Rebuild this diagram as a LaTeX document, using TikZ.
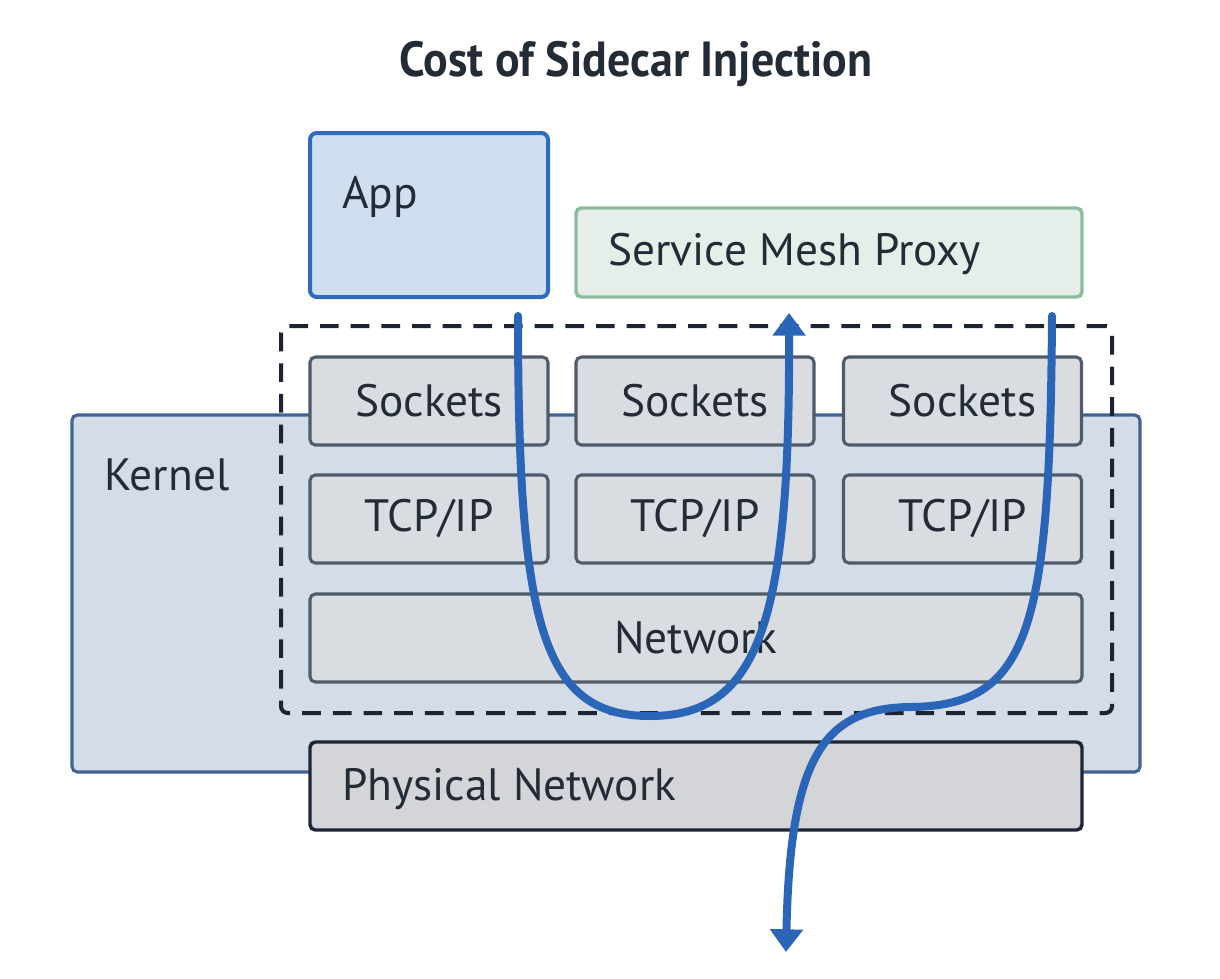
\documentclass[tikz,border=0pt]{standalone}
\usepackage{fontspec}
\setmainfont{PT Sans}
\newfontfamily\titlefont[FakeStretch=0.93]{PT Sans Bold}
\usetikzlibrary{arrows.meta}
\definecolor{txt}{HTML}{222B36}
\definecolor{flow}{HTML}{2B65B8}
\definecolor{appfill}{HTML}{CFDFF0}
\definecolor{appline}{HTML}{2F6BBF}
\definecolor{smpfill}{HTML}{E5EEE8}
\definecolor{smpline}{HTML}{8BBD9C}
\definecolor{kerfill}{HTML}{D4DDE7}
\definecolor{kerline}{HTML}{3F6494}
\definecolor{layfill}{HTML}{D9DDE1}
\definecolor{layline}{HTML}{4F5B69}
\definecolor{phyfill}{HTML}{D3D5D9}
\definecolor{phyline}{HTML}{1E2636}
\definecolor{dashcol}{HTML}{1C2333}
\tikzset{
  layer/.style={draw=layline, fill=layfill, line width=2.3pt, rounded corners=4pt,
    minimum width=238*0.75pt, minimum height=88*0.75pt, inner sep=0pt,
    font=\fontsize{34}{38}\selectfont, text=txt},
  lbl/.style={anchor=base west, inner sep=0pt, font=\fontsize{34}{38}\selectfont, text=txt},
  flowline/.style={draw=flow, line width=6pt, line cap=round,
    -{Triangle[width=24pt,length=17pt]}},
}
\begin{document}
\begin{tikzpicture}[x=0.75pt,y=-0.75pt]
\useasboundingbox (0,0) rectangle (1220,978);
% title
\node[anchor=base, inner sep=0pt, font=\titlefont\fontsize{37}{40}\selectfont, text=txt] (title) at (636,76) {Cost of Sidecar Injection};
% kernel
\node[draw=kerline, fill=kerfill, line width=2.3pt, rounded corners=4pt, minimum width=1068*0.75pt, minimum height=357*0.75pt, inner sep=0pt] (kernel) at (606,593.5) {};
\node[lbl] (kernellbl) at (104,490) {Kernel};
% dashed region
\node[draw=dashcol, line width=3pt, dash pattern=on 14pt off 9pt, rounded corners=5pt, minimum width=831*0.75pt, minimum height=387*0.75pt, inner sep=0pt] (dash) at (696.5,519.5) {};
% layers
\node[layer] (s1) at (429,401) {Sockets};
\node[layer] (s2) at (695,401) {Sockets};
\node[layer] (s3) at (962.5,401) {Sockets};
\node[layer] (t1) at (429,519) {TCP/IP};
\node[layer] (t2) at (695,519) {TCP/IP};
\node[layer] (t3) at (962.5,519) {TCP/IP};
\node[layer, minimum width=772*0.75pt] (net) at (696,638) {Network};
% physical network
\node[draw=phyline, fill=phyfill, line width=2.6pt, rounded corners=4pt, minimum width=772*0.75pt, minimum height=88*0.75pt, inner sep=0pt] (phy) at (696,786) {};
\node[lbl] (phylbl) at (342,800) {Physical Network};
% app
\node[draw=appline, fill=appfill, line width=3pt, rounded corners=5pt, minimum width=238*0.75pt, minimum height=164*0.75pt, inner sep=0pt] (app) at (429,215) {};
\node[lbl] (applbl) at (342,208) {App};
% proxy
\node[draw=smpline, fill=smpfill, line width=2.6pt, rounded corners=4pt, minimum width=506*0.75pt, minimum height=89*0.75pt, inner sep=0pt] (smp) at (829,252.5) {};
\node[lbl] (smplbl) at (608,265) {Service Mesh Proxy};
% flows
\coordinate (a1) at (518,316);
\coordinate (a2) at (789,313);
\coordinate (b1) at (1052,316);
\coordinate (b2) at (786,952);
\draw[flowline] (a1) .. controls (518,625) and (542,716) .. (650,716) .. controls (760,716) and (790,620) .. (a2);
\draw[flowline] (b1) .. controls (1050,630) and (1030,706) .. (910,707) .. controls (822,708) and (790,760) .. (b2);
\end{tikzpicture}
\end{document}
